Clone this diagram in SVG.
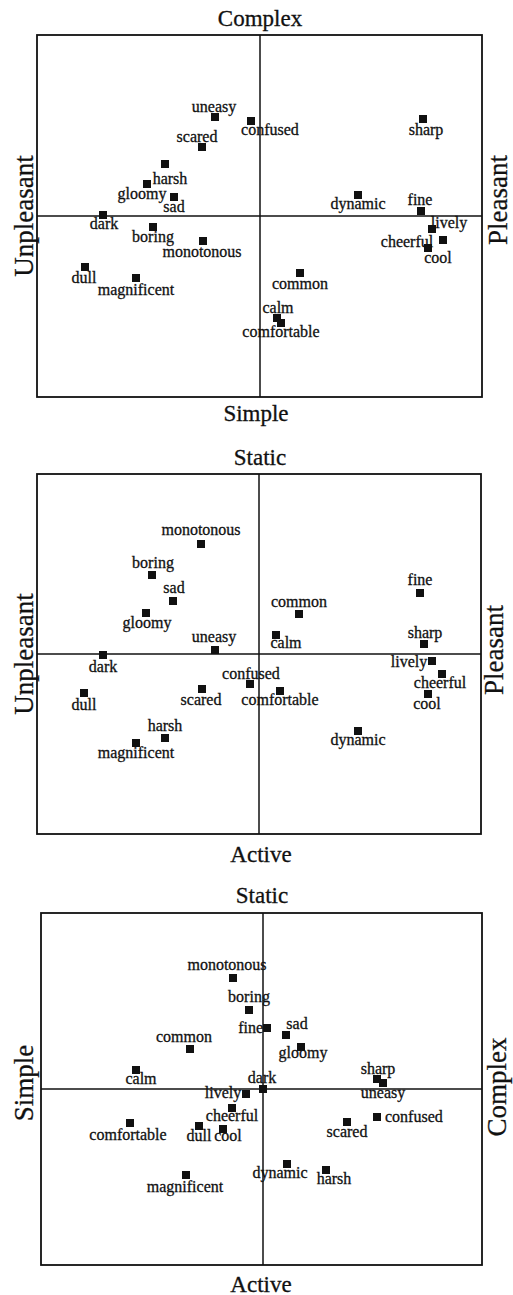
<svg xmlns="http://www.w3.org/2000/svg" xmlns:xlink="http://www.w3.org/1999/xlink" width="513" height="1295" viewBox="0 0 513 1295">
<style>
.frame{fill:none;stroke:#111;stroke-width:1.8}
.axis{stroke:#111;stroke-width:1.5;fill:none}
.mk{fill:#111}
text{font-family:"Liberation Serif","Times New Roman",serif;fill:#111;stroke:#111;stroke-width:0.3}
.lbl{font-size:16px;text-anchor:middle}
.st{text-anchor:start}
.en{text-anchor:end}
.ttl{font-size:23px;text-anchor:middle}
.side{font-size:27px;text-anchor:middle}
</style>
<defs><rect id="m" x="-4" y="-4" width="8" height="8" class="mk"/></defs>
<rect width="513" height="1295" fill="#fff"/>

<!-- Panel 1 -->
<g id="panel1">
<rect class="frame" x="37" y="35" width="445" height="362"/>
<g id="p1-axes"><line class="axis" x1="260" y1="35" x2="260" y2="397"/><line class="axis" x1="37" y1="216" x2="482" y2="216"/></g>
<text class="ttl" x="260" y="26">Complex</text>
<text class="ttl" x="256" y="421">Simple</text>
<text class="side" transform="translate(33,216) rotate(-90)">Unpleasant</text>
<text class="side" transform="translate(507,200) rotate(-90)">Pleasant</text>
<g id="p1-uneasy"><use href="#m" x="215" y="117"/><text class="lbl" x="214" y="112">uneasy</text></g>
<g id="p1-confused"><use href="#m" x="251" y="121"/><text class="lbl" x="270" y="135">confused</text></g>
<g id="p1-scared"><use href="#m" x="202" y="147"/><text class="lbl" x="197" y="142">scared</text></g>
<g id="p1-harsh"><use href="#m" x="165" y="164"/><text class="lbl" x="170" y="184">harsh</text></g>
<g id="p1-gloomy"><use href="#m" x="147" y="184"/><text class="lbl" x="142" y="199">gloomy</text></g>
<g id="p1-sad"><use href="#m" x="174" y="197"/><text class="lbl" x="174" y="212">sad</text></g>
<g id="p1-dark"><use href="#m" x="103" y="215"/><text class="lbl" x="104" y="229">dark</text></g>
<g id="p1-boring"><use href="#m" x="153" y="227"/><text class="lbl" x="153" y="242">boring</text></g>
<g id="p1-monotonous"><use href="#m" x="203" y="241"/><text class="lbl" x="202" y="257">monotonous</text></g>
<g id="p1-dull"><use href="#m" x="85" y="267"/><text class="lbl" x="84" y="283">dull</text></g>
<g id="p1-magnificent"><use href="#m" x="136" y="278"/><text class="lbl" x="136" y="295">magnificent</text></g>
<g id="p1-common"><use href="#m" x="300" y="273"/><text class="lbl" x="300" y="289">common</text></g>
<g id="p1-calm"><use href="#m" x="277" y="318"/><text class="lbl" x="278" y="313">calm</text></g>
<g id="p1-comfortable"><use href="#m" x="281" y="323"/><text class="lbl" x="281" y="337">comfortable</text></g>
<g id="p1-sharp"><use href="#m" x="423" y="119"/><text class="lbl" x="426" y="135">sharp</text></g>
<g id="p1-dynamic"><use href="#m" x="358" y="195"/><text class="lbl" x="358" y="209">dynamic</text></g>
<g id="p1-fine"><use href="#m" x="421" y="211"/><text class="lbl" x="420" y="205">fine</text></g>
<g id="p1-lively"><use href="#m" x="432" y="229"/><text class="lbl" x="449" y="228">lively</text></g>
<g id="p1-cheerful"><use href="#m" x="443" y="240"/><text class="lbl" x="407" y="247">cheerful</text></g>
<g id="p1-cool"><use href="#m" x="428" y="248"/><text class="lbl" x="438" y="263">cool</text></g>
</g>

<!-- Panel 2 -->
<g id="panel2">
<rect class="frame" x="37" y="474" width="444" height="360"/>
<g id="p2-axes"><line class="axis" x1="259" y1="474" x2="259" y2="834"/><line class="axis" x1="37" y1="654" x2="481" y2="654"/></g>
<text class="ttl" x="260" y="465">Static</text>
<text class="ttl" x="261" y="862">Active</text>
<text class="side" transform="translate(33,654) rotate(-90)">Unpleasant</text>
<text class="side" transform="translate(503,650) rotate(-90)">Pleasant</text>
<g id="p2-monotonous"><use href="#m" x="201" y="544"/><text class="lbl" x="201" y="535">monotonous</text></g>
<g id="p2-boring"><use href="#m" x="152" y="575"/><text class="lbl" x="153" y="568">boring</text></g>
<g id="p2-sad"><use href="#m" x="173" y="601"/><text class="lbl" x="174" y="593">sad</text></g>
<g id="p2-gloomy"><use href="#m" x="146" y="613"/><text class="lbl" x="147" y="628">gloomy</text></g>
<g id="p2-uneasy"><use href="#m" x="215" y="650"/><text class="lbl" x="214" y="642">uneasy</text></g>
<g id="p2-dark"><use href="#m" x="103" y="655"/><text class="lbl" x="103" y="672">dark</text></g>
<g id="p2-dull"><use href="#m" x="84" y="693"/><text class="lbl" x="84" y="710">dull</text></g>
<g id="p2-scared"><use href="#m" x="202" y="689"/><text class="lbl" x="201" y="705">scared</text></g>
<g id="p2-confused"><use href="#m" x="250" y="684"/><text class="lbl" x="251" y="679">confused</text></g>
<g id="p2-comfortable"><use href="#m" x="280" y="691"/><text class="lbl" x="280" y="705">comfortable</text></g>
<g id="p2-harsh"><use href="#m" x="165" y="738"/><text class="lbl" x="165" y="731">harsh</text></g>
<g id="p2-magnificent"><use href="#m" x="136" y="743"/><text class="lbl" x="136" y="758">magnificent</text></g>
<g id="p2-lively"><use href="#m" x="432" y="661"/><text class="lbl" x="409" y="667">lively</text></g>
<g id="p2-cheerful"><use href="#m" x="442" y="674"/><text class="lbl" x="440" y="688">cheerful</text></g>
<g id="p2-cool"><use href="#m" x="428" y="694"/><text class="lbl" x="427" y="709">cool</text></g>
<g id="p2-dynamic"><use href="#m" x="358" y="731"/><text class="lbl" x="358" y="745">dynamic</text></g>
<g id="p2-fine"><use href="#m" x="420" y="593"/><text class="lbl" x="420" y="585">fine</text></g>
<g id="p2-common"><use href="#m" x="299" y="614"/><text class="lbl" x="299" y="607">common</text></g>
<g id="p2-calm"><use href="#m" x="276" y="635"/><text class="lbl" x="286" y="648">calm</text></g>
<g id="p2-sharp"><use href="#m" x="424" y="644"/><text class="lbl" x="425" y="638">sharp</text></g>
</g>

<!-- Panel 3 -->
<g id="panel3">
<rect class="frame" x="41" y="913" width="441" height="352"/>
<g id="p3-axes"><line class="axis" x1="263" y1="913" x2="263" y2="1265"/><line class="axis" x1="41" y1="1089" x2="482" y2="1089"/></g>
<text class="ttl" x="262" y="903">Static</text>
<text class="ttl" x="261" y="1292">Active</text>
<text class="side" transform="translate(33,1083) rotate(-90)">Simple</text>
<text class="side" transform="translate(506,1087) rotate(-90)">Complex</text>
<g id="p3-monotonous"><use href="#m" x="233" y="978"/><text class="lbl" x="227" y="970">monotonous</text></g>
<g id="p3-boring"><use href="#m" x="249" y="1010"/><text class="lbl" x="249" y="1002">boring</text></g>
<g id="p3-fine"><use href="#m" x="267" y="1028"/><text class="lbl en" x="263" y="1033">fine</text></g>
<g id="p3-sad"><use href="#m" x="286" y="1035"/><text class="lbl" x="297" y="1029">sad</text></g>
<g id="p3-gloomy"><use href="#m" x="301" y="1047"/><text class="lbl" x="303" y="1058">gloomy</text></g>
<g id="p3-common"><use href="#m" x="190" y="1049"/><text class="lbl" x="184" y="1042">common</text></g>
<g id="p3-calm"><use href="#m" x="136" y="1070"/><text class="lbl" x="141" y="1084">calm</text></g>
<g id="p3-dark"><use href="#m" x="263" y="1089"/><text class="lbl" x="262" y="1083">dark</text></g>
<g id="p3-sharp"><use href="#m" x="377" y="1079"/><text class="lbl" x="378" y="1074">sharp</text></g>
<g id="p3-uneasy"><use href="#m" x="383" y="1083"/><text class="lbl" x="383" y="1098">uneasy</text></g>
<g id="p3-lively"><use href="#m" x="246" y="1094"/><text class="lbl" x="223" y="1098">lively</text></g>
<g id="p3-cheerful"><use href="#m" x="232" y="1108"/><text class="lbl" x="232" y="1121">cheerful</text></g>
<g id="p3-comfortable"><use href="#m" x="130" y="1123"/><text class="lbl" x="128" y="1140">comfortable</text></g>
<g id="p3-dull"><use href="#m" x="199" y="1126"/><text class="lbl" x="199" y="1141">dull</text></g>
<g id="p3-cool"><use href="#m" x="223" y="1129"/><text class="lbl" x="228" y="1141">cool</text></g>
<g id="p3-magnificent"><use href="#m" x="186" y="1175"/><text class="lbl" x="185" y="1192">magnificent</text></g>
<g id="p3-dynamic"><use href="#m" x="287" y="1164"/><text class="lbl" x="280" y="1178">dynamic</text></g>
<g id="p3-harsh"><use href="#m" x="326" y="1170"/><text class="lbl" x="334" y="1184">harsh</text></g>
<g id="p3-scared"><use href="#m" x="347" y="1122"/><text class="lbl" x="347" y="1137">scared</text></g>
<g id="p3-confused"><use href="#m" x="377" y="1117"/><text class="lbl st" x="385" y="1122">confused</text></g>
</g>
</svg>
